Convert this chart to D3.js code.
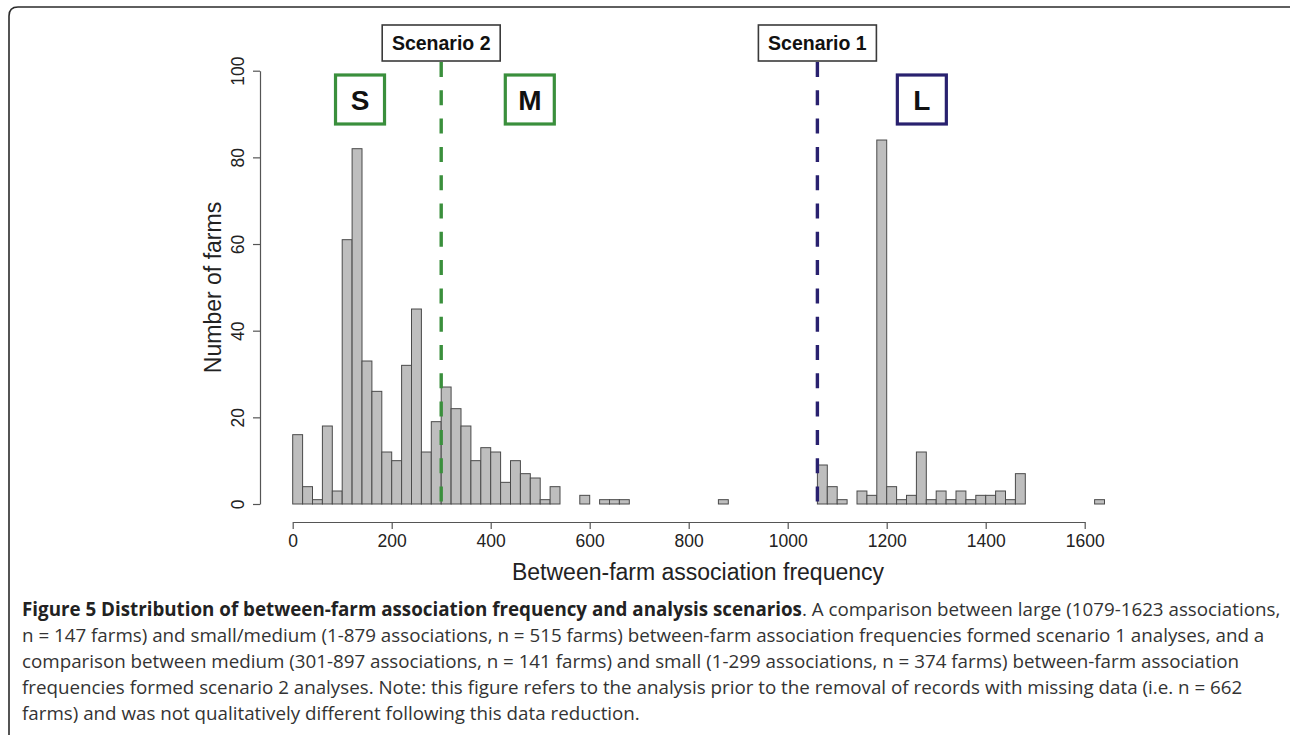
<!DOCTYPE html>
<html>
<head>
<meta charset="utf-8">
<script src="https://cdn.jsdelivr.net/npm/d3@7"></script>
<style>
  html, body { margin: 0; padding: 0; background: #fff; }
  svg { display: block; }
</style>
</head>
<body>
<svg id="chart" width="1290" height="735"></svg>
<script>
// ---- data ----
const binStarts = d3.range(0, 1640, 20); // 82 bins of width 20
const binWidth = 20;
const counts = [
  16, 4, 1, 18, 3, 61, 82, 33, 26, 12,   // 0-199
  10, 32, 45, 12, 19, 27, 22, 18, 10, 13, // 200-399
  12, 5, 10, 7, 6, 1, 4, 0, 0, 2,        // 400-599
  0, 1, 1, 1, 0, 0, 0, 0, 0, 0,          // 600-799
  0, 0, 0, 1, 0, 0, 0, 0, 0, 0,          // 800-999
  0, 0, 0, 9, 4, 1, 0, 3, 2, 84,         // 1000-1199
  4, 1, 2, 12, 1, 3, 1, 3, 1, 2,         // 1200-1399
  2, 3, 1, 7, 0, 0, 0, 0, 0, 0,          // 1400-1599
  0, 1                                   // 1600-1639
];
const xTicks = [0, 200, 400, 600, 800, 1000, 1200, 1400, 1600];
const yTicks = [0, 20, 40, 60, 80, 100];
const scenarioLabels = ["Scenario 2", "Scenario 1"];
const scenarioValues = [300, 1060];
const groupLabels = ["S", "M", "L"];
const groupCenters = [136, 479, 1271];
const xTitle = "Between-farm association frequency";
const yTitle = "Number of farms";
const captionBold = "Figure 5 Distribution of between-farm association frequency and analysis scenarios";
const captionLines = [
  ". A comparison between large (1079-1623 associations,",
  "n = 147 farms) and small/medium (1-879 associations, n = 515 farms) between-farm association frequencies formed scenario 1 analyses, and a",
  "comparison between medium (301-897 associations, n = 141 farms) and small (1-299 associations, n = 374 farms) between-farm association",
  "frequencies formed scenario 2 analyses. Note: this figure refers to the analysis prior to the removal of records with missing data (i.e. n = 662",
  "farms) and was not qualitatively different following this data reduction."
];

// ---- layout ----
const svg = d3.select("#chart");
const x = d3.scaleLinear().domain([0, 1600]).range([292.7, 1084.7]);
const y = d3.scaleLinear().domain([0, 100]).range([504, 70.7]);
const axisFont = "'Liberation Sans', Arial, Helvetica, sans-serif";
const green = "#3a8f3c";
const navy = "#29216f";

// outer frame (rounded)
svg.append("path")
  .attr("d", "M9,760 L9,16 Q9,7 18,7 L1300,7")
  .attr("fill", "none").attr("stroke", "#2b2b2b").attr("stroke-width", 1.6);

// bars
svg.append("g").selectAll("rect")
  .data(binStarts.map((b, i) => ({ b, c: counts[i] })))
  .join("rect")
  .attr("x", d => x(d.b))
  .attr("width", d => x(d.b + binWidth) - x(d.b))
  .attr("y", d => y(d.c))
  .attr("height", d => y(0) - y(d.c))
  .attr("fill", "#bebebe")
  .attr("stroke", "#4a4a4a")
  .attr("stroke-width", 1);

// x axis
const xAxis = svg.append("g")
  .attr("transform", "translate(0,522)")
  .call(d3.axisBottom(x).tickValues(xTicks).tickSize(7).tickSizeOuter(0).tickPadding(6).tickFormat(d3.format("d")));
xAxis.select(".domain").attr("stroke", "#555").attr("stroke-width", 1.2);
xAxis.selectAll(".tick line").attr("stroke", "#555").attr("stroke-width", 1.2);
xAxis.selectAll(".tick text")
  .attr("font-family", axisFont).attr("font-size", 17.5).attr("fill", "#222");

// y axis
const yAxis = svg.append("g")
  .attr("transform", "translate(260,0)")
  .call(d3.axisLeft(y).tickValues(yTicks).tickSize(7).tickSizeOuter(0).tickFormat(d3.format("d")));
yAxis.select(".domain").attr("stroke", "#555").attr("stroke-width", 1.2);
yAxis.selectAll(".tick line").attr("stroke", "#555").attr("stroke-width", 1.2);
yAxis.selectAll(".tick text")
  .attr("font-family", axisFont).attr("font-size", 17.5).attr("fill", "#222")
  .attr("x", null).attr("dy", null)
  .attr("text-anchor", "middle")
  .attr("transform", "translate(-16,0) rotate(-90)");

// axis titles
svg.append("text")
  .attr("x", 698).attr("y", 580)
  .attr("text-anchor", "middle")
  .attr("font-family", axisFont).attr("font-size", 23).attr("fill", "#222")
  .text(xTitle);
svg.append("text")
  .attr("transform", "translate(220.5,287.5) rotate(-90)")
  .attr("text-anchor", "middle")
  .attr("font-family", axisFont).attr("font-size", 23).attr("fill", "#222")
  .text(yTitle);

// scenario dashed lines
const lineColors = [green, navy];
scenarioValues.forEach((v, i) => {
  svg.append("line")
    .attr("x1", x(v)).attr("x2", x(v))
    .attr("y1", 62).attr("y2", y(0))
    .attr("stroke", lineColors[i]).attr("stroke-width", 3.4)
    .attr("stroke-dasharray", "15,13.3");
});

// scenario label boxes
scenarioValues.forEach((v, i) => {
  const cx = x(v);
  svg.append("rect")
    .attr("x", cx - 59).attr("y", 25).attr("width", 118).attr("height", 36)
    .attr("fill", "#fff").attr("stroke", "#3a3a3a").attr("stroke-width", 1.6);
  svg.append("text")
    .attr("x", cx).attr("y", 50)
    .attr("text-anchor", "middle")
    .attr("font-family", axisFont).attr("font-weight", "bold").attr("font-size", 19.5)
    .attr("fill", "#111")
    .text(scenarioLabels[i]);
});

// group boxes S, M, L (positioned in data units along the x axis)
const groupColors = [green, green, navy];
groupLabels.forEach((g, i) => {
  const cx = x(groupCenters[i]);
  svg.append("rect")
    .attr("x", cx - 24.5).attr("y", 75).attr("width", 49).attr("height", 49)
    .attr("fill", "#fff").attr("stroke", groupColors[i]).attr("stroke-width", 3.2);
  svg.append("text")
    .attr("x", cx).attr("y", 110)
    .attr("text-anchor", "middle")
    .attr("font-family", axisFont).attr("font-weight", "bold").attr("font-size", 28)
    .attr("fill", "#111")
    .text(g);
});

// caption
const capFont = "'Open Sans', 'Noto Sans', sans-serif";
const baselines = [616, 642, 668, 694, 720];
const capTexts = [];
captionLines.forEach((line, i) => {
  const t = svg.append("text")
    .attr("x", 22).attr("y", baselines[i])
    .attr("font-family", capFont).attr("font-size", 16).attr("fill", "#333");
  if (i === 0) {
    t.append("tspan").attr("font-weight", "bold").attr("fill", "#222").text(captionBold);
  }
  t.append("tspan").text(line);
  capTexts.push(t);
});
// fit caption font size so the first line spans to the right edge as in the figure
const len0 = capTexts[0].node().getComputedTextLength();
const fs = 16 * (1259 / len0);
capTexts.forEach(t => t.attr("font-size", fs));
</script>
</body>
</html>
